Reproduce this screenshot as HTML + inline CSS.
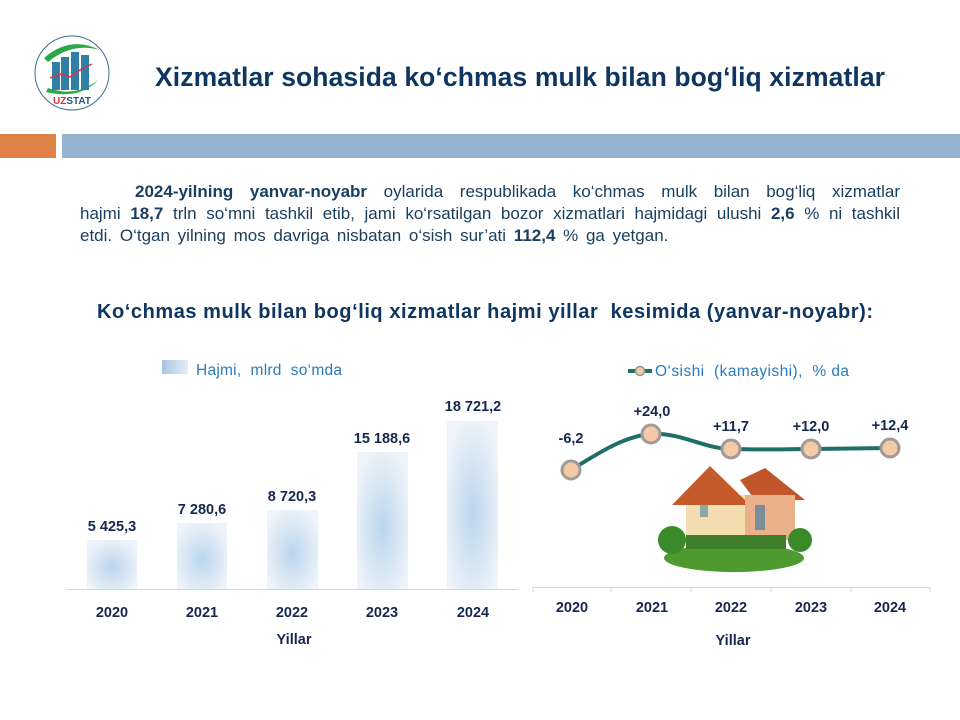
<!DOCTYPE html>
<html><head><meta charset="utf-8"><style>
body{margin:0;width:960px;height:720px;background:#fff;position:relative;overflow:hidden;font-family:"Liberation Sans",sans-serif}
.a{position:absolute}
.p{left:80px;width:820px;font-size:17px;line-height:22px;color:#1b3f60;text-align:justify;text-align-last:justify;white-space:nowrap}
</style></head><body>
<svg class="a" style="left:0;top:0" width="960" height="720">
<defs>
<radialGradient id="bg" cx="50%" cy="55%" r="60%"><stop offset="0" stop-color="#bcd5ec"/><stop offset="1" stop-color="#eef4fa"/></radialGradient>
<linearGradient id="lg"><stop offset="0" stop-color="#a9c4e0"/><stop offset="1" stop-color="#e3eef8"/></linearGradient>
</defs>
<circle cx="72" cy="73" r="37" fill="#fff" stroke="#3a6e8c" stroke-width="1"/>
<path d="M44 58 Q70 35 100 50 Q72 42 48 62Z" fill="#2aa84a"/>
<path d="M48 88 Q75 98 98 80 Q80 100 46 92Z" fill="#2aa84a"/>
<rect x="52" y="62" width="8" height="28" fill="#2f7fa6"/><rect x="61" y="57" width="8" height="33" fill="#2f7fa6"/><rect x="71" y="52" width="8" height="38" fill="#2f7fa6"/><rect x="81" y="55" width="8" height="35" fill="#2f7fa6"/>
<polyline points="50,78 60,74 70,77 80,70 92,64" fill="none" stroke="#d9333f" stroke-width="1.5"/>
<text x="72" y="104" font-size="10" font-weight="bold" fill="#d9333f" text-anchor="middle">UZ<tspan fill="#1c5a8a">STAT</tspan></text>
<text x="155" y="86" font-size="26.5" font-weight="bold" fill="#0f3660" textLength="730" lengthAdjust="spacing">Xizmatlar sohasida ko‘chmas mulk bilan bog‘liq xizmatlar</text>
<rect x="0" y="134" width="56" height="24" fill="#dd8147"/>
<rect x="62" y="134" width="898" height="24" fill="#94b4d2"/>
<text x="97" y="318" font-size="20" font-weight="bold" fill="#0f3660" textLength="776" lengthAdjust="spacing">Ko‘chmas mulk bilan bog‘liq xizmatlar hajmi yillar&#160; kesimida (yanvar-noyabr):</text>
<rect x="162" y="360" width="26" height="14" fill="url(#lg)"/>
<text x="196" y="375" font-size="15.5" fill="#2a7bbd" textLength="146" lengthAdjust="spacing">Hajmi,&#160; mlrd&#160; so‘mda</text>
<g fill="url(#bg)">
<rect x="87" y="540" width="50" height="49"/><rect x="177" y="523" width="50" height="66"/><rect x="267" y="510" width="51" height="79"/><rect x="357" y="452" width="51" height="137"/><rect x="447" y="421" width="51" height="168"/>
</g>
<line x1="67" y1="589.5" x2="518" y2="589.5" stroke="#d6d6d6"/>
<g font-size="14.5" font-weight="bold" fill="#14284e" text-anchor="middle">
<text x="112" y="531">5 425,3</text><text x="202" y="514">7 280,6</text><text x="292" y="501">8 720,3</text><text x="382" y="443">15 188,6</text><text x="473" y="411">18 721,2</text>
<text x="112" y="617">2020</text><text x="202" y="617">2021</text><text x="292" y="617">2022</text><text x="382" y="617">2023</text><text x="473" y="617">2024</text>
<text x="294" y="644">Yillar</text>
<text x="571" y="443">-6,2</text><text x="652" y="416">+24,0</text><text x="731" y="431">+11,7</text><text x="811" y="431">+12,0</text><text x="890" y="430">+12,4</text>
<text x="572" y="612">2020</text><text x="652" y="612">2021</text><text x="731" y="612">2022</text><text x="811" y="612">2023</text><text x="890" y="612">2024</text>
<text x="733" y="645">Yillar</text>
</g>
<line x1="628" y1="371" x2="652" y2="371" stroke="#1f6e68" stroke-width="4"/>
<circle cx="640" cy="371" r="4.5" fill="#f0c9a8" stroke="#998" stroke-width="1.5"/>
<text x="655" y="376" font-size="15.5" fill="#2a7bbd" textLength="194" lengthAdjust="spacing">O‘sishi&#160; (kamayishi),&#160; % da</text>
<line x1="533" y1="587.5" x2="930" y2="587.5" stroke="#d6d6d6"/>
<g stroke="#d6d6d6"><line x1="533" y1="587" x2="533" y2="592"/><line x1="611" y1="587" x2="611" y2="592"/><line x1="691" y1="587" x2="691" y2="592"/><line x1="771" y1="587" x2="771" y2="592"/><line x1="851" y1="587" x2="851" y2="592"/><line x1="930" y1="587" x2="930" y2="592"/></g>
<path d="M571 470 C600 452 625 436 651 434 C680 432 705 449 731 449 C760 450 790 449 811 449 L890 448" fill="none" stroke="#1f6e68" stroke-width="4"/>
<g fill="#f3c9a6" stroke="#a09a98" stroke-width="3">
<circle cx="571" cy="470" r="9"/><circle cx="651" cy="434" r="9"/><circle cx="731" cy="449" r="9"/><circle cx="811" cy="449" r="9"/><circle cx="890" cy="448" r="9"/>
</g>
<ellipse cx="734" cy="558" rx="70" ry="14" fill="#4e9a2e"/>
<rect x="686" y="495" width="70" height="45" fill="#f4ddb0"/>
<polygon points="672,505 710,466 750,505" fill="#c55a2a"/>
<polygon points="740,480 765,468 805,500 755,500" fill="#c0562a"/>
<rect x="745" y="495" width="50" height="45" fill="#eab08a"/>
<rect x="755" y="505" width="10" height="25" fill="#7a8e9a"/><rect x="700" y="505" width="8" height="12" fill="#8aa"/>
<circle cx="672" cy="540" r="14" fill="#3a8a2a"/><circle cx="800" cy="540" r="12" fill="#3a8a2a"/>
<rect x="686" y="535" width="100" height="14" fill="#3f7e2a"/>
</svg>
<div class="a p" style="top:181px"><span style="display:inline-block;width:55px"></span><b>2024-yilning yanvar-noyabr</b> oylarida respublikada ko‘chmas mulk bilan bog‘liq xizmatlar</div>
<div class="a p" style="top:203px">hajmi <b>18,7</b> trln so‘mni tashkil etib, jami ko‘rsatilgan bozor xizmatlari hajmidagi ulushi <b>2,6</b> % ni tashkil</div>
<div class="a p" style="top:225px;text-align:left;text-align-last:left;word-spacing:3px">etdi. O‘tgan yilning mos davriga nisbatan o‘sish sur’ati <b>112,4</b> % ga yetgan.</div>
</body></html>
